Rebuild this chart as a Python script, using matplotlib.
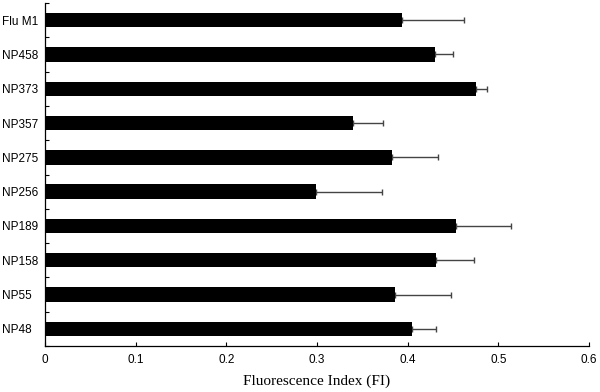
import numpy as np
import matplotlib
matplotlib.use("Agg")
import matplotlib.pyplot as plt
from matplotlib.ticker import FixedLocator

# data, top to bottom as in the figure
peptides = ["Flu M1", "NP458", "NP373", "NP357", "NP275",
            "NP256", "NP189", "NP158", "NP55", "NP48"]
fi_mean = [0.394, 0.430, 0.475, 0.340, 0.383, 0.299, 0.453, 0.431, 0.386, 0.405]
fi_err = [0.068, 0.020, 0.013, 0.033, 0.051, 0.073, 0.061, 0.042, 0.062, 0.026]
x_ticks = [0, 0.1, 0.2, 0.3, 0.4, 0.5, 0.6]

fig = plt.figure(figsize=(6, 3.92), dpi=100)
ax = fig.add_axes([45 / 600, 1 - 346 / 392, 544 / 600, 343 / 392])

pos = np.arange(len(peptides))
ax.barh(pos, fi_mean, height=0.42, color="black", zorder=2)
ax.errorbar(fi_mean, pos, xerr=[np.zeros(len(fi_err)), fi_err], fmt="none",
            ecolor="#444444", elinewidth=1.0, capsize=2.5, capthick=1.0, zorder=1)

ax.set_ylim(len(peptides) - 0.5, -0.5)
ax.set_xlim(0, 0.6)
ax.set_yticks(pos)
ax.set_yticklabels(peptides, fontfamily="Liberation Sans", fontsize=8.5, ha="left")
ax.yaxis.set_minor_locator(FixedLocator(np.arange(-0.5, len(peptides), 1.0)))
# labels are left aligned at the figure edge
ax.tick_params(axis="y", which="major", length=0, pad=43 * 0.72)
ax.tick_params(axis="y", which="minor", direction="in", length=3, width=0.8)

ax.set_xticks(x_ticks)
ax.set_xticklabels([f"{t:g}" for t in x_ticks], fontfamily="Liberation Sans", fontsize=8.5)
ax.tick_params(axis="x", direction="in", length=3, width=0.8, pad=6)
ax.set_xlabel("Fluorescence Index (FI)", fontfamily="Liberation Serif", fontsize=11, labelpad=6)

for side in ["top", "right"]:
    ax.spines[side].set_visible(False)
for side in ["left", "bottom"]:
    ax.spines[side].set_linewidth(0.9)

fig.savefig("out.png", dpi=100)
